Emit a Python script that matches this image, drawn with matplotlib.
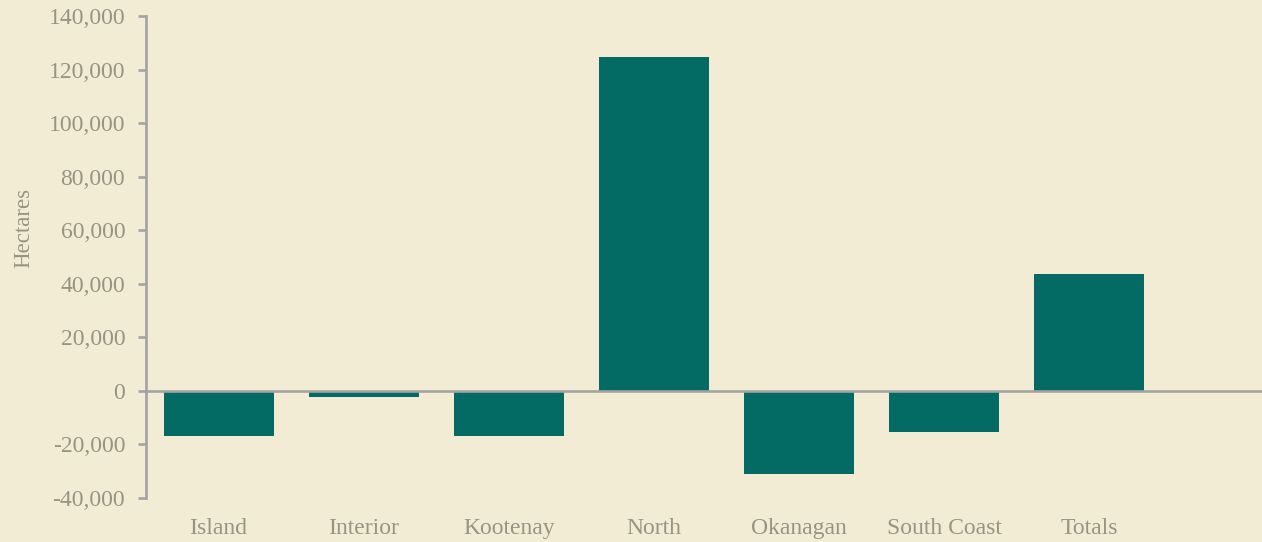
import matplotlib.pyplot as plt
from matplotlib.ticker import FuncFormatter

regions = ['Island', 'Interior', 'Kootenay', 'North', 'Okanagan', 'South Coast', 'Totals']
hectares = [-17000, -2400, -16800, 124700, -31000, -15600, 43700]
yticks = [-40000, -20000, 0, 20000, 40000, 60000, 80000, 100000, 120000, 140000]

bg = '#F2ECD5'
bar_color = '#046B64'
axis_color = '#A3A3A3'
text_color = '#979582'

plt.rcParams['font.family'] = ['Liberation Serif', 'DejaVu Serif']

fig = plt.figure(figsize=(12.62, 5.42), dpi=100, facecolor=bg)
ax = fig.add_axes([0.1157, 0.0818, 0.8843, 0.8887], facecolor=bg)

x = range(len(regions))
ax.bar(x, hectares, width=0.757, color=bar_color, zorder=2)
ax.axhline(0, color=axis_color, lw=1.9, zorder=3)

ax.set_xlim(-0.5, 7.19)
ax.set_ylim(-40000, 140000)
ax.set_yticks(yticks)
ax.yaxis.set_major_formatter(FuncFormatter(lambda v, p: f'{int(v):,}'))
ax.set_xticks(list(x))
ax.set_xticklabels(regions)

for s in ['top', 'right', 'bottom']:
    ax.spines[s].set_visible(False)
ax.spines['left'].set_color(axis_color)
ax.spines['left'].set_linewidth(1.9)

ax.tick_params(axis='y', colors=axis_color, labelcolor=text_color, length=6,
               width=1.9, labelsize=17, pad=9)
ax.tick_params(axis='x', length=0, labelcolor=text_color, labelsize=17, pad=15)

ax.set_ylabel('Hectares', color=text_color, fontsize=16.5)
ax.yaxis.set_label_coords(-0.1, 0.56)

plt.savefig('out.png', dpi=100, facecolor=bg)
